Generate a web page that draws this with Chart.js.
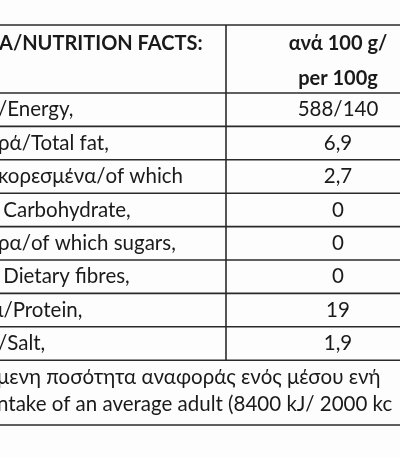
<!DOCTYPE html>
<html><head><meta charset="utf-8">
<script src="https://cdn.jsdelivr.net/npm/chart.js@4/dist/chart.umd.min.js"></script>
<style>html,body{margin:0;padding:0;background:#fdfdfd}#w{width:400px;height:457px}</style>
</head><body><div id="w"><canvas id="c"></canvas></div>
<script>
const headerLeft = "A/NUTRITION FACTS:";
const headerRight = ["ανά 100 g/", "per 100g"];
const rowLabels = ["/Energy,", "ρά/Total fat,", "κορεσμένα/of which", " Carbohydrate,", "ρα/of which sugars,", " Dietary fibres,", "ι/Protein,", "/Salt,"];
const rowValues = ["588/140", "6,9", "2,7", "0", "0", "0", "19", "1,9"];
const footer = ["μενη ποσότητα αναφοράς ενός μέσου ενή", "ntake of an average adult (8400 kJ/ 2000 kc"];

// layout (page units, y down)
const rowTop = 93, rowH = 33.4, valX = 338, divX = 226;
const pts = rowValues.map((v, i) => ({x: valX, y: rowTop + rowH * (i + 0.5)}));

const tablePlugin = {
  id: 'table',
  afterDatasetsDraw(chart) {
    const ctx = chart.ctx, X = chart.scales.x, Y = chart.scales.y;
    const px = v => X.getPixelForValue(v), py = v => Y.getPixelForValue(v);
    ctx.save();
    ctx.strokeStyle = '#2a2a2a'; ctx.lineWidth = 1.6;
    const hl = y => { ctx.beginPath(); ctx.moveTo(px(0), py(y)); ctx.lineTo(px(400), py(y)); ctx.stroke(); };
    hl(25); hl(rowTop);
    for (let i = 1; i <= rowLabels.length; i++) hl(rowTop + rowH * i);
    hl(425);
    ctx.beginPath(); ctx.moveTo(px(divX), py(25)); ctx.lineTo(px(divX), py(rowTop + rowH * rowLabels.length)); ctx.stroke();
    ctx.fillStyle = '#1a1a1a'; ctx.textBaseline = 'middle';
    ctx.font = 'bold 20px Lato, "Open Sans", sans-serif'; ctx.textAlign = 'left';
    ctx.fillText(headerLeft, px(-1), py(44));
    ctx.textAlign = 'center';
    ctx.font = 'bold 20px Lato, "Open Sans", sans-serif';
    ctx.fillText(headerRight[0], px(valX), py(44));
    ctx.fillText(headerRight[1], px(valX), py(79));
    ctx.font = '20.5px Lato, "Open Sans", sans-serif';
    const meta = chart.getDatasetMeta(0);
    meta.data.forEach((el, i) => {
      ctx.textAlign = 'left'; ctx.fillText(rowLabels[i], px(-2), el.y);
      ctx.textAlign = 'center'; ctx.fillText(rowValues[i], el.x, el.y);
    });
    ctx.textAlign = 'left';
    ctx.fillText(footer[0], px(-3), py(377));
    ctx.fillText(footer[1], px(-3), py(404));
    ctx.restore();
  }
};

new Chart(document.getElementById('c'), {
  type: 'scatter',
  data: {datasets: [{data: pts, pointRadius: 0}]},
  options: {
    responsive: true, maintainAspectRatio: false, animation: false,
    layout: {padding: 0},
    plugins: {legend: {display: false}, tooltip: {enabled: false}},
    scales: {
      x: {type: 'linear', min: 0, max: 400, display: false},
      y: {type: 'linear', min: 0, max: 457, reverse: true, display: false}
    }
  },
  plugins: [tablePlugin]
});
</script></body></html>
